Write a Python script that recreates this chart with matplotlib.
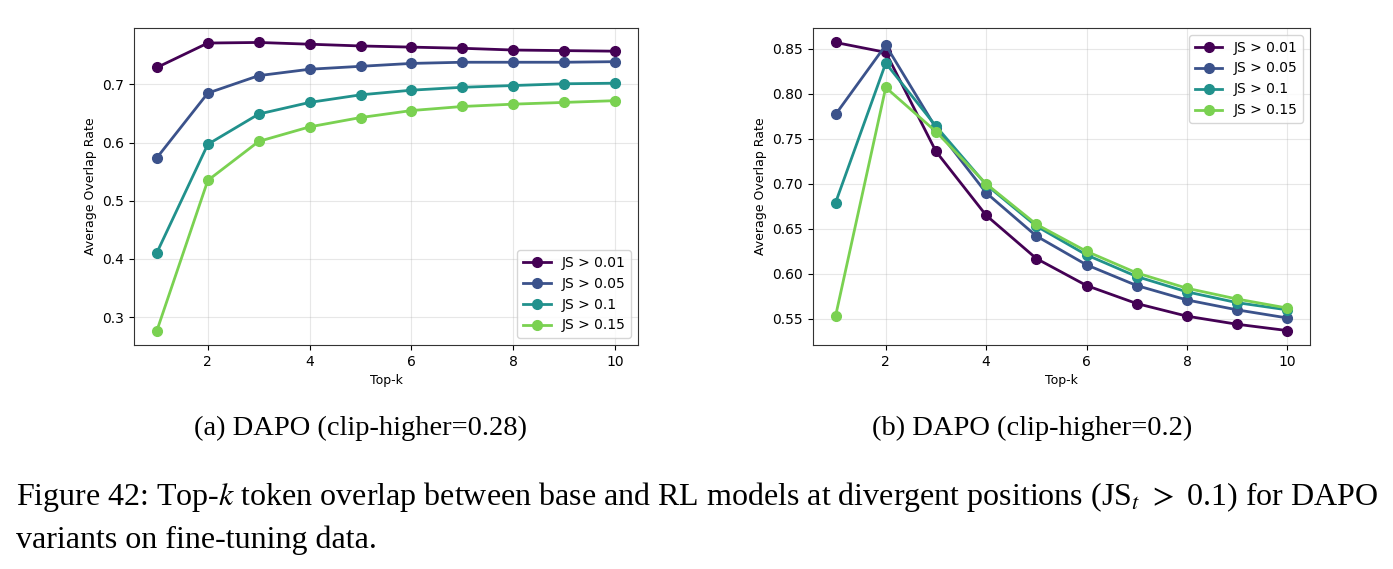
import numpy as np
from matplotlib import pyplot as plt

topk = list(range(1, 11))
labels = ['JS > 0.01', 'JS > 0.05', 'JS > 0.1', 'JS > 0.15']
colors = ['#440154', '#3b528b', '#21918c', '#7ad151']

# (a) DAPO clip-higher=0.28
a_js001 = [0.729, 0.771, 0.772, 0.769, 0.766, 0.764, 0.762, 0.759, 0.758, 0.757]
a_js005 = [0.574, 0.685, 0.715, 0.726, 0.731, 0.736, 0.738, 0.738, 0.738, 0.739]
a_js01 = [0.411, 0.597, 0.649, 0.669, 0.682, 0.690, 0.695, 0.698, 0.701, 0.702]
a_js015 = [0.277, 0.535, 0.602, 0.627, 0.643, 0.655, 0.662, 0.666, 0.669, 0.672]

# (b) DAPO clip-higher=0.2
b_js001 = [0.857, 0.846, 0.736, 0.665, 0.617, 0.587, 0.567, 0.553, 0.544, 0.537]
b_js005 = [0.777, 0.854, 0.762, 0.690, 0.642, 0.610, 0.587, 0.571, 0.560, 0.551]
b_js01 = [0.679, 0.834, 0.764, 0.699, 0.653, 0.621, 0.597, 0.580, 0.568, 0.560]
b_js015 = [0.553, 0.807, 0.758, 0.700, 0.655, 0.625, 0.601, 0.584, 0.572, 0.562]

plt.rcParams['mathtext.fontset'] = 'stix'

fig = plt.figure(figsize=(13.93, 5.69), dpi=100)
ax_a = fig.add_axes([0.0962, 0.3937, 0.3618, 0.557])
ax_b = fig.add_axes([0.5836, 0.3937, 0.3568, 0.557])


def draw(ax, series, legend_loc):
    for vals, lab, col in zip(series, labels, colors):
        ax.plot(topk, vals, marker='o', color=col, label=lab, linewidth=2, markersize=7)
    ax.set_xlabel('Top-k', fontsize=9)
    ax.set_ylabel('Average Overlap Rate', fontsize=9)
    ax.set_xticks([2, 4, 6, 8, 10])
    ax.tick_params(labelsize=10)
    ax.grid(True, alpha=0.3)
    for sp in ax.spines.values():
        sp.set_color('#333333')
    ax.legend(loc=legend_loc, fontsize=10)


draw(ax_a, [a_js001, a_js005, a_js01, a_js015], 'lower right')
ax_a.set_yticks([0.3, 0.4, 0.5, 0.6, 0.7])
draw(ax_b, [b_js001, b_js005, b_js01, b_js015], 'upper right')
ax_b.set_yticks(np.arange(0.55, 0.851, 0.05))

serif = 'Liberation Serif'
fig.text(360 / 1393, 1 - 428 / 569, '(a) DAPO (clip-higher=0.28)', ha='center', va='center',
         fontsize=20.5, family=serif)
fig.text(1032 / 1393, 1 - 428 / 569, '(b) DAPO (clip-higher=0.2)', ha='center', va='center',
         fontsize=20.5, family=serif)
fig.text(16 / 1393, 1 - 497 / 569,
         'Figure 42: Top-$k$ token overlap between base and RL models at divergent positions '
         '(JS$_t$ $>$ 0.1) for DAPO',
         ha='left', va='center', fontsize=23, family=serif)
fig.text(16 / 1393, 1 - 540 / 569, 'variants on fine-tuning data.', ha='left', va='center',
         fontsize=23, family=serif)

plt.savefig('out.png', dpi=100)
plt.close()
